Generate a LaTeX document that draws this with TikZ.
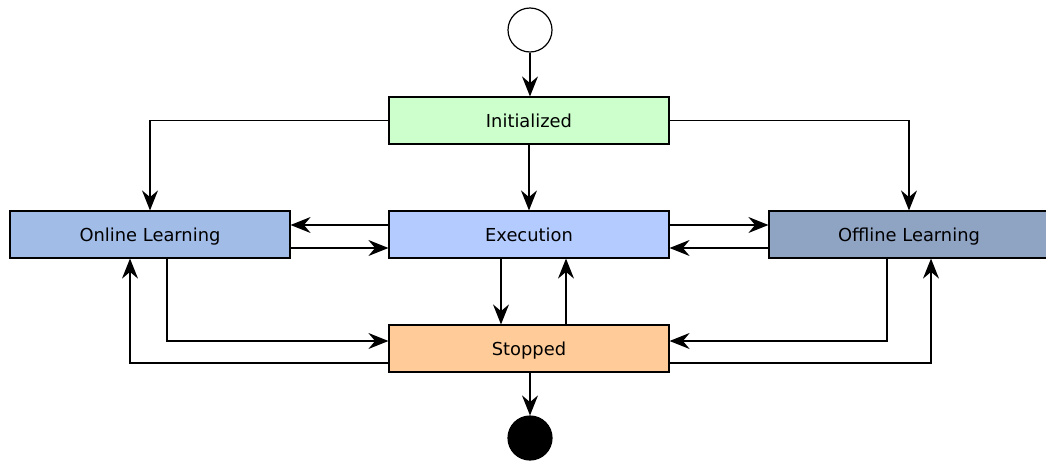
\documentclass[tikz,border=0pt]{standalone}
\usepackage{fontspec}
\setmainfont{DejaVu Sans}
\usetikzlibrary{arrows.meta}
\definecolor{cinit}{RGB}{204,255,204}
\definecolor{conline}{RGB}{162,188,232}
\definecolor{cexec}{RGB}{179,203,255}
\definecolor{coffline}{RGB}{143,163,195}
\definecolor{cstop}{RGB}{255,204,153}
\tikzset{
  state/.style={draw=black, line width=0.9pt, minimum width=210pt, minimum height=35.25pt, inner sep=0pt, text depth=0pt, font=\fontsize{13.4}{15}\selectfont},
  conn/.style={line width=1pt, arrows={-Stealth[length=15pt, width=12pt, inset=5pt]}}
}
\begin{document}
\begin{tikzpicture}[x=0.75pt,y=-0.75pt]
\useasboundingbox (0,0) rectangle (1046,461);
\node[circle, draw, fill=white, line width=0.9pt, minimum size=33pt, inner sep=0pt] (start) at (530,30) {};
\node[state, fill=cinit] (init) at (529,120.5) {Initialized};
\node[state, fill=conline] (online) at (150,234.5) {Online Learning};
\node[state, fill=cexec] (exec) at (529,234.5) {Execution};
\node[state, fill=coffline] (offline) at (909,234.5) {Offline Learning};
\node[state, fill=cstop] (stop) at (529,348.5) {Stopped};
\node[circle, draw, fill=black, line width=0.9pt, minimum size=33pt, inner sep=0pt] (end) at (530,438) {};

\draw[conn] (start) -- (start|-init.north);
\draw[conn] (init.west) -| (online.north);
\draw[conn] (init.east) -| (offline.north);
\draw[conn] (init) -- (exec);
\draw[conn] (exec.west|-0,225) -- (online.east|-0,225);
\draw[conn] (online.east|-0,248) -- (exec.west|-0,248);
\draw[conn] (exec.east|-0,225) -- (offline.west|-0,225);
\draw[conn] (offline.west|-0,248) -- (exec.east|-0,248);
\draw[conn] (exec.south-|501,0) -- (stop.north-|501,0);
\draw[conn] (stop.north-|566,0) -- (exec.south-|566,0);
\draw[conn] (online.south-|167,0) |- (stop.west|-0,341);
\draw[conn] (stop.west|-0,363) -| (online.south-|130,0);
\draw[conn] (offline.south-|887,0) |- (stop.east|-0,341);
\draw[conn] (stop.east|-0,363) -| (offline.south-|931,0);
\draw[conn] (stop.south-|end) -- (end);
\end{tikzpicture}
\end{document}
